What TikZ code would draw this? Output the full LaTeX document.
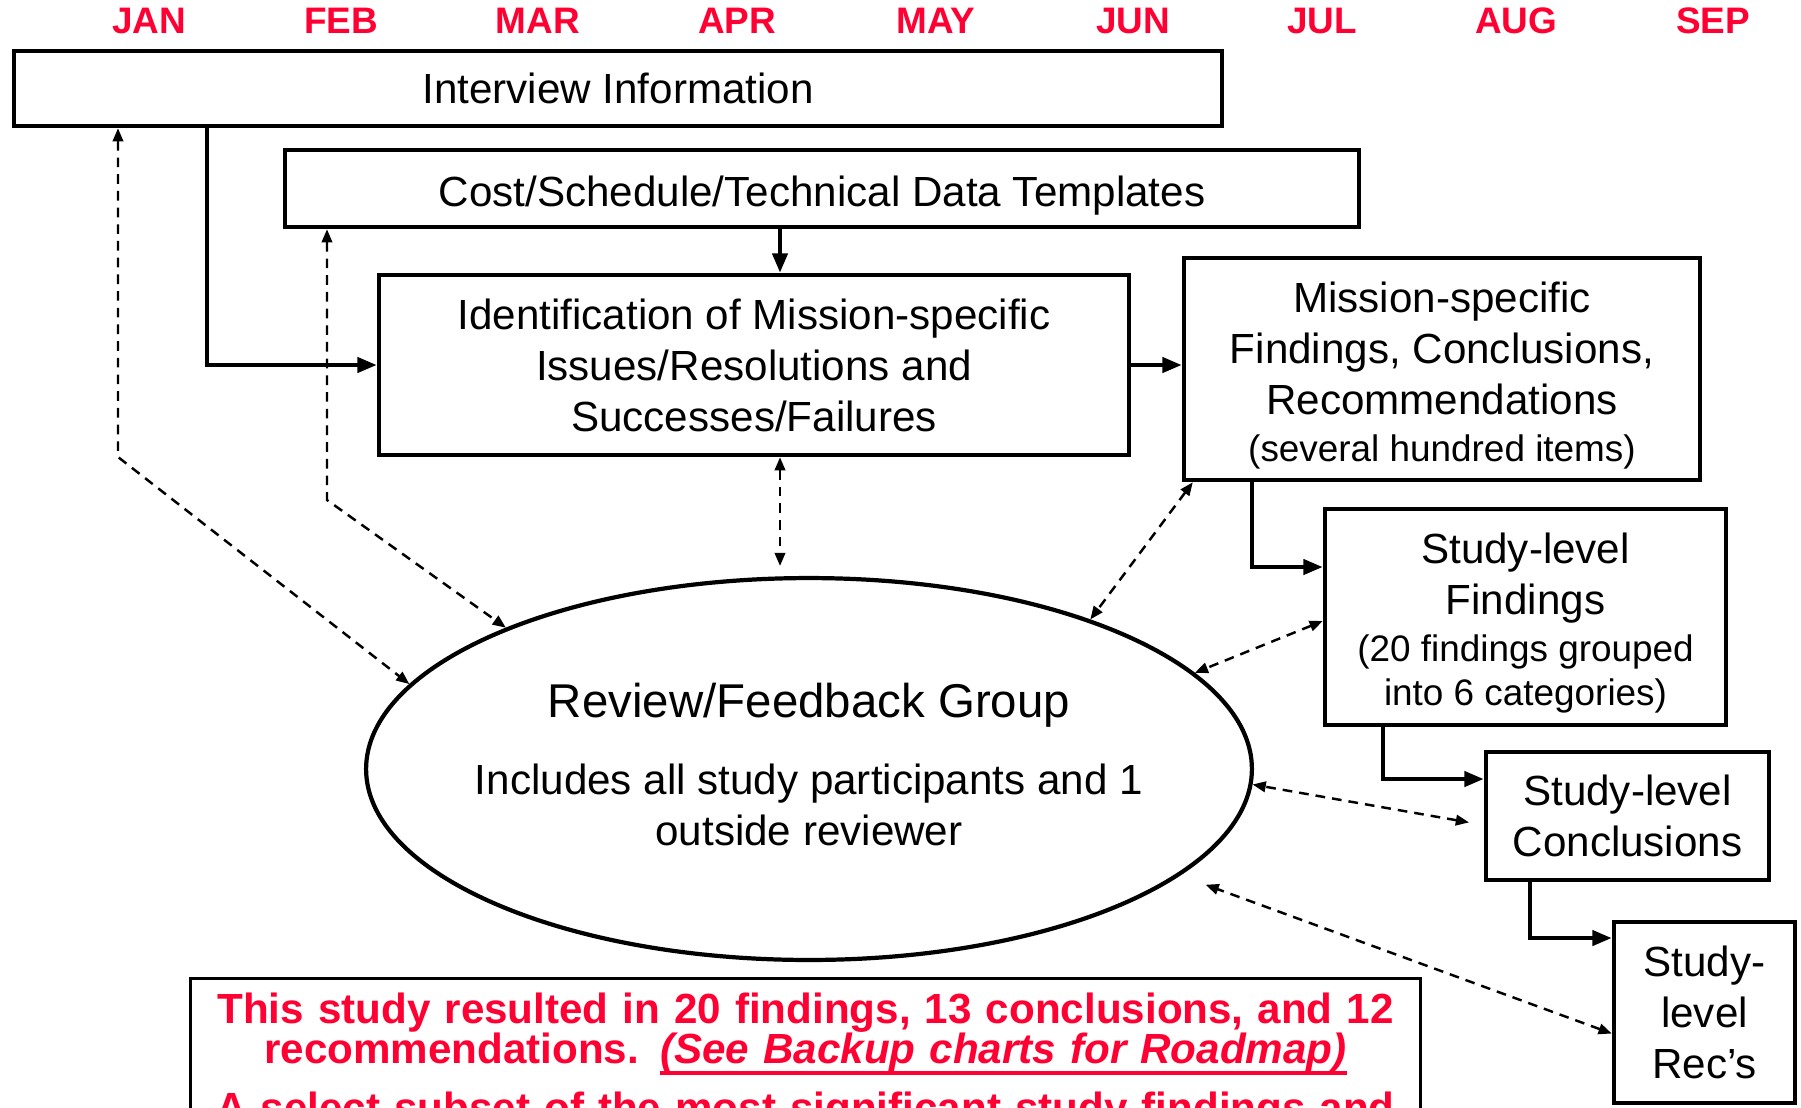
\documentclass[tikz,border=0pt]{standalone}
\usepackage{fontspec}
\setmainfont{Liberation Sans}
\usetikzlibrary{arrows.meta,shapes.geometric}
\definecolor{monthred}{RGB}{255,0,51}
\newcommand{\thickul}[1]{\setbox0=\hbox{#1}\rlap{\rule[-6pt]{\wd0}{2.2pt}}\box0}

\begin{document}
\begin{tikzpicture}[x=0.02cm, y=-0.02cm,
    box/.style={draw, line width=2.6pt, align=center, inner sep=0pt, font=\fontsize{24}{29}\selectfont},
    month/.style={font=\fontsize{21}{25}\selectfont\bfseries, text=monthred},
    flow/.style={line width=2.4pt, -{Triangle[length=11pt,width=8.5pt]}},
    fb/.style={line width=1.4pt, dash pattern=on 5.5pt off 4pt, {Triangle[length=7.5pt,width=6pt]}-{Triangle[length=7.5pt,width=6pt]}}]
    \useasboundingbox (0,0) rectangle (1801,1107);
    \clip (0,0) rectangle (1801,1107);

    % === Months ===
    \foreach \m/\x [count=\i] in {JAN/149,FEB/341,MAR/538,APR/737,MAY/936,JUN/1133,JUL/1322,AUG/1516,SEP/1713}
        \node[month] (m\i) at (\x,21) {\m};

    % === Boxes ===
    \node[box, minimum width=24.16cm, minimum height=1.5cm] (interview) at (618,88.5) {Interview Information};
    \node[box, minimum width=21.48cm, minimum height=1.54cm] (templates) at (822,188.5) {\rule{0pt}{25.3pt}Cost/Schedule/Technical Data Templates};
    \node[box, minimum width=15cm, minimum height=3.6cm] (issues) at (754,365) {Identification of Mission-specific\\Issues/Resolutions and\\Successes/Failures};
    \node[box, minimum width=10.32cm, minimum height=4.44cm] (mission) at (1442,369) {\rule{0pt}{25pt}Mission-specific\\Findings, Conclusions,\\Recommendations\\[-2pt]{\fontsize{21}{25}\selectfont (several hundred items)}};
    \node[box, minimum width=8.02cm, minimum height=4.32cm] (findings) at (1525.5,617) {\rule{0pt}{24pt}Study-level\\Findings\\[-2pt]{\fontsize{21}{25}\selectfont (20 findings grouped}\\[-4pt]{\fontsize{21}{25}\selectfont into 6 categories)}};
    \node[box, minimum width=5.66cm, minimum height=2.56cm] (concl) at (1627.5,816) {Study-level\\Conclusions};
    \node[box, minimum width=3.62cm, minimum height=3.62cm] (recs) at (1704.5,1012.5) {Study-\\level\\Rec’s};

    % Ellipse
    \node[ellipse, draw, line width=2.4pt, minimum width=17.72cm, minimum height=7.64cm, align=center, inner sep=0pt, font=\fontsize{24}{29}\selectfont] (review) at (809,769) {{\fontsize{27}{32}\selectfont\makebox[0pt]{Review/Feedback Group}}\\[15pt]\makebox[0pt]{Includes all study participants and 1}\\\makebox[0pt]{outside reviewer}\rule[-5pt]{0pt}{5pt}};

    % Summary box (runs off the page)
    \node[draw, line width=1.6pt, anchor=north, text width=24.62cm, inner xsep=0pt, inner ysep=8pt, align=center, text=monthred, font=\fontsize{24}{23.3}\selectfont\bfseries] (summary) at (805.5,977) {This study resulted in 20 findings, 13 conclusions, and 12\\recommendations. \thickul{\itshape (See Backup charts for Roadmap)}\\[9pt]A select subset of the most significant study findings and};

    % === Solid flow ===
    \coordinate (tapx) at (207,0);
    \coordinate (midx) at (780,0);
    \coordinate (mfx) at (1252,0);
    \coordinate (fcx) at (1383,0);
    \coordinate (crx) at (1530,0);
    \draw[flow] (interview.south -| tapx) |- (issues.west);
    \draw[flow] (templates.south -| midx) -- (issues.north -| midx);
    \draw[flow] (issues.east) -- (issues.east -| mission.west);
    \draw[flow] (mission.south -| mfx) |- ([yshift=1cm]findings.west);
    \draw[flow] (findings.south -| fcx) |- ([yshift=0.74cm]concl.west);
    \draw[flow] (concl.south -| crx) |- ([yshift=1.49cm]recs.west);

    % === Feedback (dashed) ===
    \coordinate (janbend) at (118,457);
    \coordinate (febbend) at (327,500);
    \draw[fb] (interview.south -| janbend) -- (janbend) -- (review.168);
    \draw[fb] (templates.south -| febbend) -- (febbend) -- (review.155);
    \draw[fb, shorten >=0.2cm] (issues.south -| midx) -- (review.north -| midx);
    \draw[fb] ([xshift=0.22cm]mission.south west) -- (review.28);
    \draw[fb] ([yshift=-0.08cm]findings.west) -- (review.14);
    \draw[fb, shorten <=0.3cm] ([yshift=-0.18cm]concl.west) -- (review.-2);
    \draw[fb, shorten >=0.54cm] ([yshift=-0.42cm]recs.west) -- (review.-16);
\end{tikzpicture}
\end{document}
